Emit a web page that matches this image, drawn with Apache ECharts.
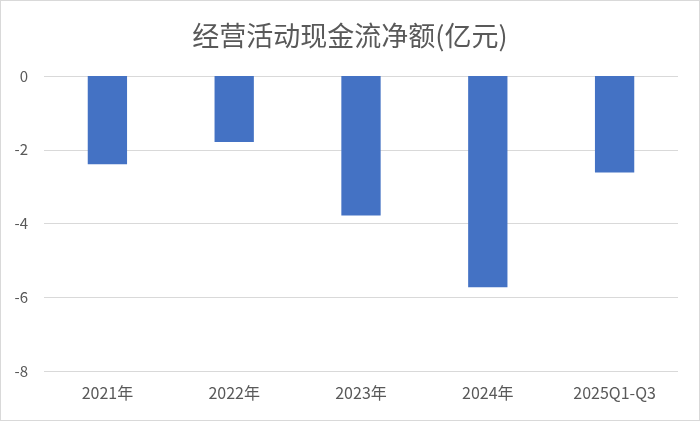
<!DOCTYPE html>
<html>
<head>
<meta charset="utf-8">
<script src="https://cdn.jsdelivr.net/npm/echarts@6/dist/echarts.min.js"></script>
<style>
html,body{margin:0;padding:0;background:#fff;}
#chart{width:700px;height:421px;box-sizing:border-box;border:1px solid #d9d9d9;}
</style>
</head>
<body>
<div id="chart"></div>
<script>
const titleText = '经营活动现金流净额(亿元)';
const categories = ['2021年', '2022年', '2023年', '2024年', '2025Q1-Q3'];
const values = [-2.39, -1.79, -3.78, -5.73, -2.62];
const yMin = -8, yMax = 0, yInterval = 2;

const chart = echarts.init(document.getElementById('chart'));
const font = '"Noto Sans CJK SC", "Noto Sans", sans-serif';
chart.setOption({
  animation: false,
  title: {
    text: titleText,
    left: 'center',
    top: 16,
    textStyle: {fontFamily: font, fontSize: 27, fontWeight: 'normal', color: '#595959'}
  },
  grid: {left: 43, right: 21, top: 75, bottom: 49},
  xAxis: {
    type: 'category',
    data: categories,
    position: 'bottom',
    axisLine: {show: false},
    axisTick: {show: false},
    axisLabel: {fontFamily: font, fontSize: 16, color: '#595959', margin: 14}
  },
  yAxis: {
    type: 'value',
    min: yMin, max: yMax, interval: yInterval,
    axisLine: {show: false},
    axisTick: {show: false},
    splitLine: {lineStyle: {color: '#d9d9d9', width: 1}},
    axisLabel: {fontFamily: font, fontSize: 15, color: '#595959', margin: 16}
  },
  series: [{
    type: 'bar',
    data: values,
    barWidth: '31%',
    itemStyle: {color: '#4472C4'}
  }]
});
</script>
</body>
</html>
